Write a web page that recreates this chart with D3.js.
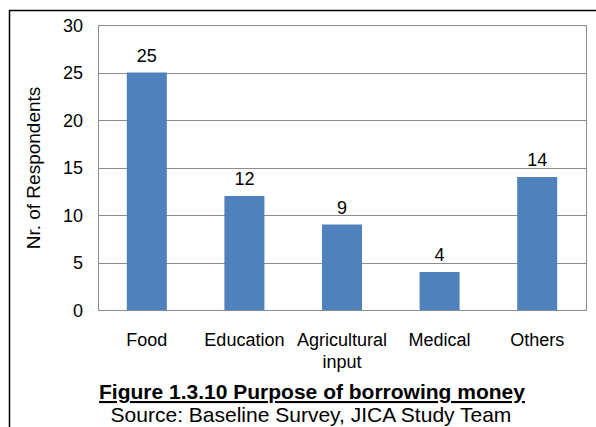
<!DOCTYPE html>
<html>
<head>
<meta charset="utf-8">
<script src="https://cdn.jsdelivr.net/npm/d3@7"></script>
<style>
  body { margin: 0; background: #fff; }
  svg { display: block; font-family: "Liberation Sans", Arial, sans-serif; }
</style>
</head>
<body>
<svg id="chart" width="596" height="427"></svg>
<script>
// chart data
const categories = ["Food", "Education", "Agricultural input", "Medical", "Others"];
const respondents = [25, 12, 9, 4, 14];
const yTicks = [0, 5, 10, 15, 20, 25, 30];

const svg = d3.select("#chart");

// outer frame (only left and top visible in the crop)
svg.append("path")
    .attr("d", "M9.5,427 V10.5 H596")
    .attr("fill", "none")
    .attr("stroke", "#000")
    .attr("stroke-width", 1.5);

const plot = {left: 98, top: 25, right: 586, bottom: 310};

let x = d3.scaleBand()
    .domain(categories)
    .range([plot.left, plot.right])
    .paddingInner(0.59)
    .paddingOuter(0.295);

let y = d3.scaleLinear()
    .domain([0, 30])
    .range([plot.bottom, plot.top]);

// gridlines
svg.append("g")
    .selectAll("line")
    .data(yTicks.slice(1))
    .enter().append("line")
    .attr("x1", plot.left).attr("x2", plot.right)
    .attr("y1", d => Math.round(y(d)) + 0.5)
    .attr("y2", d => Math.round(y(d)) + 0.5)
    .attr("stroke", "#8c8c8c");

// bars
svg.append("g")
    .selectAll("rect")
    .data(respondents)
    .enter().append("rect")
    .attr("x", (d, i) => x(categories[i]))
    .attr("y", d => y(d))
    .attr("width", x.bandwidth())
    .attr("height", d => y(0) - y(d))
    .attr("fill", "#4f81bd");

// plot border
svg.append("rect")
    .attr("x", plot.left + 0.5).attr("y", plot.top + 0.5)
    .attr("width", plot.right - plot.left)
    .attr("height", plot.bottom - plot.top)
    .attr("fill", "none")
    .attr("stroke", "#8c8c8c");

// y axis labels
let yAxis = d3.axisLeft(y).tickValues(yTicks).tickSize(0).tickPadding(15);
let yg = svg.append("g")
    .attr("transform", `translate(${plot.left},0)`)
    .call(yAxis);
yg.select(".domain").remove();
yg.attr("font-size", null).attr("font-family", null);
yg.selectAll("text")
    .style("font-size", "18px")
    .attr("fill", "#000")
    .attr("dy", "0.35em");

// value labels
svg.append("g")
    .selectAll("text")
    .data(respondents)
    .enter().append("text")
    .attr("x", (d, i) => x(categories[i]) + x.bandwidth() / 2)
    .attr("y", d => y(d) - 11)
    .attr("text-anchor", "middle")
    .style("font-size", "18px")
    .text(d => d);

// category labels (wrapped like the original)
let catLines = {"Agricultural input": ["Agricultural", "input"]};
let cg = svg.append("g")
    .selectAll("text")
    .data(categories)
    .enter().append("text")
    .attr("x", d => x(d) + x.bandwidth() / 2)
    .attr("y", 346)
    .attr("text-anchor", "middle")
    .style("font-size", "18px");
cg.selectAll("tspan")
    .data(d => catLines[d] || [d])
    .enter().append("tspan")
    .attr("x", function () { return d3.select(this.parentNode).attr("x"); })
    .attr("dy", (d, i) => i === 0 ? 0 : 22)
    .text(d => d);

// y axis title
svg.append("text")
    .attr("transform", "translate(40,168) rotate(-90)")
    .attr("text-anchor", "middle")
    .style("font-size", "19px")
    .text("Nr. of Respondents");

// caption
svg.append("text")
    .attr("x", 312)
    .attr("y", 399)
    .attr("text-anchor", "middle")
    .style("font-size", "21px")
    .attr("font-weight", "bold")
    .attr("text-decoration", "underline")
    .text("Figure 1.3.10 Purpose of borrowing money");

svg.append("text")
    .attr("x", 311)
    .attr("y", 422)
    .attr("text-anchor", "middle")
    .style("font-size", "21px")
    .text("Source: Baseline Survey, JICA Study Team");
</script>
</body>
</html>
